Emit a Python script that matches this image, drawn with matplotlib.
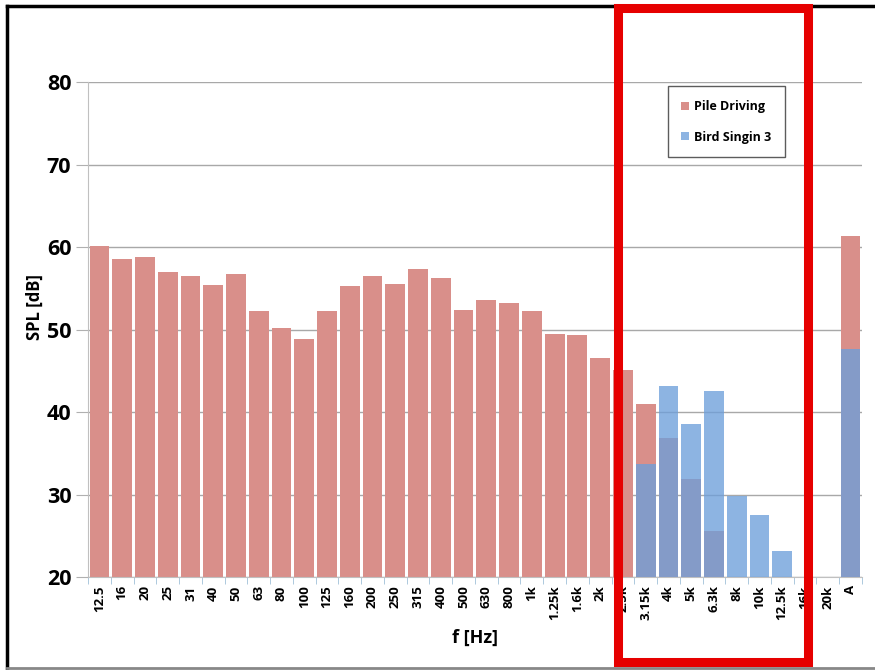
import numpy as np
import matplotlib
matplotlib.use("Agg")
import matplotlib.pyplot as plt
from matplotlib.patches import Rectangle

categories = ["12.5", "16", "20", "25", "31", "40", "50", "63", "80", "100", "125",
              "160", "200", "250", "315", "400", "500", "630", "800", "1k", "1.25k",
              "1.6k", "2k", "2.5k", "3.15k", "4k", "5k", "6.3k", "8k", "10k", "12.5k",
              "16k", "20k", "A"]
nan = np.nan
pile_driving = [60.1, 58.5, 58.75, 57.0, 56.5, 55.4, 56.7, 52.2, 50.2, 48.9, 52.3,
                55.3, 56.5, 55.5, 57.3, 56.3, 52.4, 53.6, 53.2, 52.3, 49.5,
                49.3, 46.6, 45.1, 41.0, 36.9, 31.9, 25.6, nan, nan, nan,
                nan, nan, 61.3]
bird_singing = [nan] * 24 + [33.7, 43.2, 38.6, 42.6, 29.8, 27.5, 23.2, nan, nan, 47.6]
yticks = [20, 30, 40, 50, 60, 70, 80]

plt.rcParams['font.family'] = ['Open Sans', 'DejaVu Sans']
fig = plt.figure(figsize=(8.75, 6.7), dpi=100)
ax = fig.add_axes([0.1006, 0.1388, 0.8844, 0.7388])

x = np.arange(len(categories))
w = 0.87
ax.bar(x, pile_driving, width=w, color="#d98f8a", label="Pile Driving", zorder=2)
ax.bar(x, bird_singing, width=w, color=(109/255, 159/255, 218/255), alpha=0.78,
       label="Bird Singin 3", zorder=3)

ax.set_xlim(-0.5, len(categories) - 0.5)
ax.set_ylim(20, 80)
ax.set_yticks(yticks)
ax.set_yticklabels([str(t) for t in yticks], fontsize=15.5, fontweight="bold")
ax.set_xticks(x)
ax.set_xticklabels(categories, rotation=90, fontsize=9.5, fontweight="bold")
ax.set_xticks(np.arange(-0.5, len(categories), 1), minor=True)
ax.tick_params(axis="x", which="major", length=0, pad=6)
ax.tick_params(axis="x", which="minor", length=5, color="#a0c0d8")
ax.tick_params(axis="y", length=9, color="#b0b0b0", pad=3)
ax.yaxis.grid(True, color="#a8a8a8", linewidth=1.0, zorder=0)
ax.set_axisbelow(True)
for s in ["top", "right"]:
    ax.spines[s].set_visible(False)
ax.spines["left"].set_color("#c0c0c0")
ax.spines["bottom"].set_color("#c0c0c0")

ax.set_ylabel("SPL [dB]", fontsize=12, fontweight="bold")
ax.yaxis.set_label_coords(-0.057, 0.545)
ax.set_xlabel("f [Hz]", fontsize=13, fontweight="bold", labelpad=6)

leg = ax.legend(loc="upper left", bbox_to_anchor=(0.741, 1.004), frameon=True,
                fancybox=False, edgecolor="#333333",
                prop={"weight": "bold", "size": 9}, handlelength=0.6, handleheight=0.6,
                labelspacing=1.4, borderpad=1.1, handletextpad=0.4)
leg.get_frame().set_linewidth(1.0)

# red highlight rectangle (in figure pixels)
fig.patches.append(Rectangle((618 / 875, 8 / 670), (808 - 618) / 875, (662 - 8) / 670,
                             transform=fig.transFigure, fill=False, edgecolor="#e60000",
                             linewidth=6.5, zorder=10))
# outer frame
fig.add_artist(plt.Line2D([7 / 875, 7 / 875], [2 / 670, 664 / 670], transform=fig.transFigure,
                          color="black", linewidth=2.5))
fig.add_artist(plt.Line2D([7 / 875, 1.0], [664 / 670, 664 / 670], transform=fig.transFigure,
                          color="black", linewidth=2.5))
fig.add_artist(plt.Line2D([7 / 875, 1.0], [2 / 670, 2 / 670], transform=fig.transFigure,
                          color="#888888", linewidth=2))

fig.savefig("out.png", dpi=100)
